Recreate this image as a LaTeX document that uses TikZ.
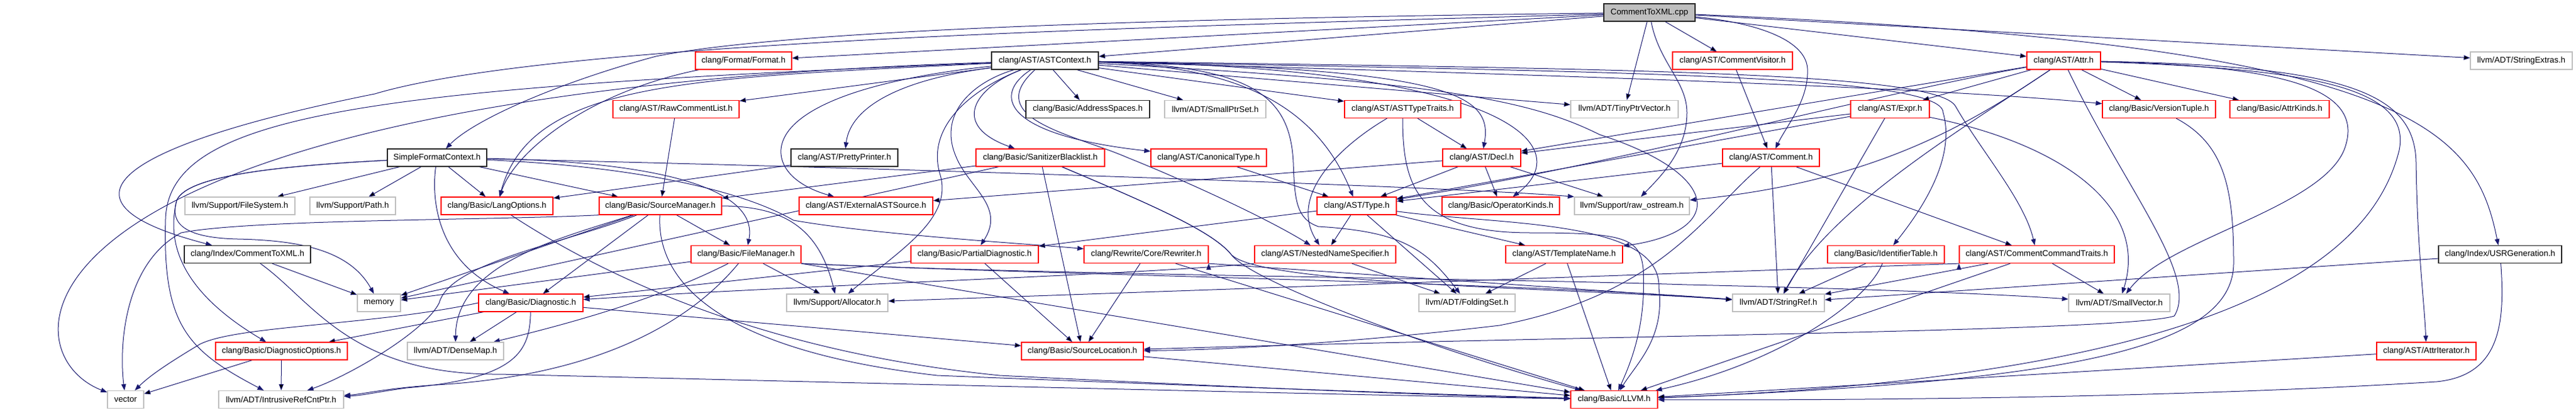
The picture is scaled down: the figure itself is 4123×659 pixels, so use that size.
\documentclass[tikz,border=0pt]{standalone}
\usepackage{fontspec}
\setmainfont{Liberation Sans}
\usetikzlibrary{arrows.meta}
\definecolor{depblue}{RGB}{25,25,112}
\definecolor{leafgray}{RGB}{191,191,191}
\pgfdeclarelayer{edges}
\pgfsetlayers{edges,main}
\tikzset{->, > = {Triangle[length=10pt, width=7.5pt]},
  file/.style = {rectangle, draw, fill=white, line width=1.2pt, minimum height=28pt,
    inner sep=0pt, font=\fontsize{13.3}{16}\selectfont},
  redfile/.style = {file, draw=red},
  leaffile/.style = {file, draw=leafgray},
  plainfile/.style = {file, draw=black!85},
  rootfile/.style = {file, draw=black!85, fill=leafgray},
  dep/.style = {draw=depblue, line width=1pt}}

\begin{document}
\begin{tikzpicture}[x=1pt, y=-1pt]
    \useasboundingbox (0,0) rectangle (4123,659);
    % row 0 and 1
    \node [rootfile, minimum width=146] (cpp) at (2640,20) {CommentToXML.cpp};
    \node [redfile, minimum width=154] (format) at (1190,97) {clang/Format/Format.h};
    \node [plainfile, minimum width=171] (astctx) at (1672.5,97) {clang/AST/ASTContext.h};
    \node [redfile, minimum width=192] (cvisitor) at (2773,97) {clang/AST/CommentVisitor.h};
    \node [redfile, minimum width=118] (attr) at (3303,97) {clang/AST/Attr.h};
    \node [leaffile, minimum width=163] (strextras) at (4035.5,97) {llvm/ADT/StringExtras.h};
    % row 2
    \node [redfile, minimum width=202] (rawcl) at (1082,174.5) {clang/AST/RawCommentList.h};
    \node [plainfile, minimum width=198] (addrsp) at (1741,174.5) {clang/Basic/AddressSpaces.h};
    \node [leaffile, minimum width=162] (smallptrset) at (1945,174.5) {llvm/ADT/SmallPtrSet.h};
    \node [redfile, minimum width=186] (asttt) at (2245,174.5) {clang/AST/ASTTypeTraits.h};
    \node [leaffile, minimum width=172] (tinyptr) at (2600,174.5) {llvm/ADT/TinyPtrVector.h};
    \node [redfile, minimum width=126] (expr) at (3025,174.5) {clang/AST/Expr.h};
    \node [redfile, minimum width=181] (vtuple) at (3455.5,174.5) {clang/Basic/VersionTuple.h};
    \node [redfile, minimum width=159] (attrkinds) at (3648.5,174.5) {clang/Basic/AttrKinds.h};
    % row 3
    \node [plainfile, minimum width=159] (sfc) at (699.5,252) {SimpleFormatContext.h};
    \node [plainfile, minimum width=171] (pretty) at (1351.5,252) {clang/AST/PrettyPrinter.h};
    \node [redfile, minimum width=206] (sanbl) at (1665,252) {clang/Basic/SanitizerBlacklist.h};
    \node [redfile, minimum width=185] (canon) at (1934.5,252) {clang/AST/CanonicalType.h};
    \node [redfile, minimum width=125] (decl) at (2371.5,252) {clang/AST/Decl.h};
    \node [redfile, minimum width=155] (comment) at (2834.5,252) {clang/AST/Comment.h};
    % row 4
    \node [leaffile, minimum width=176] (fsys) at (384,329) {llvm/Support/FileSystem.h};
    \node [leaffile, minimum width=137] (path) at (564.5,329) {llvm/Support/Path.h};
    \node [redfile, minimum width=179] (langopts) at (795.5,329) {clang/Basic/LangOptions.h};
    \node [redfile, minimum width=196] (srcmgr) at (1057,329) {clang/Basic/SourceManager.h};
    \node [redfile, minimum width=214] (extast) at (1386,329) {clang/AST/ExternalASTSource.h};
    \node [redfile, minimum width=127] (type) at (2171.5,329) {clang/AST/Type.h};
    \node [redfile, minimum width=188] (opkinds) at (2402,329) {clang/Basic/OperatorKinds.h};
    \node [leaffile, minimum width=184] (rawos) at (2612,329) {llvm/Support/raw\_ostream.h};
    % row 5
    \node [plainfile, minimum width=202] (idxctx) at (396,406.5) {clang/Index/CommentToXML.h};
    \node [redfile, minimum width=176] (filemgr) at (1194,406.5) {clang/Basic/FileManager.h};
    \node [redfile, minimum width=204] (partdiag) at (1560,406.5) {clang/Basic/PartialDiagnostic.h};
    \node [redfile, minimum width=199] (rewriter) at (1834.5,406.5) {clang/Rewrite/Core/Rewriter.h};
    \node [redfile, minimum width=226] (nns) at (2121,406.5) {clang/AST/NestedNameSpecifier.h};
    \node [redfile, minimum width=187] (tmplname) at (2503.5,406.5) {clang/AST/TemplateName.h};
    \node [redfile, minimum width=187] (identtab) at (3018.5,406.5) {clang/Basic/IdentifierTable.h};
    \node [redfile, minimum width=248] (cmdtraits) at (3260,406.5) {clang/AST/CommentCommandTraits.h};
    \node [plainfile, minimum width=197] (usrgen) at (4001.5,406.5) {clang/Index/USRGeneration.h};
    % row 6
    \node [leaffile, minimum width=69] (memory) at (606.5,484) {memory};
    \node [redfile, minimum width=167] (diag) at (849.5,484) {clang/Basic/Diagnostic.h};
    \node [leaffile, minimum width=162] (allocator) at (1340,484) {llvm/Support/Allocator.h};
    \node [leaffile, minimum width=154] (folding) at (2348,484) {llvm/ADT/FoldingSet.h};
    \node [leaffile, minimum width=147] (strref) at (2846.5,484) {llvm/ADT/StringRef.h};
    \node [leaffile, minimum width=162] (smallvec) at (3392,484) {llvm/ADT/SmallVector.h};
    % row 7 and 8
    \node [redfile, minimum width=211] (diagopts) at (450.5,561) {clang/Basic/DiagnosticOptions.h};
    \node [leaffile, minimum width=154] (densemap) at (729,561) {llvm/ADT/DenseMap.h};
    \node [redfile, minimum width=195] (srcloc) at (1732.5,561) {clang/Basic/SourceLocation.h};
    \node [redfile, minimum width=159] (attriter) at (3883.5,561) {clang/AST/AttrIterator.h};
    \node [leaffile, minimum width=58] (vector) at (201,638.5) {vector};
    \node [leaffile, minimum width=200] (intrusive) at (450,638.5) {llvm/ADT/IntrusiveRefCntPtr.h};
    \node [redfile, minimum width=139] (llvm) at (2583.5,638.5) {clang/Basic/LLVM.h};

    \begin{pgfonlayer}{edges}
    % includes of the source file
    \draw [dep] (cpp) edge (format) edge (astctx) edge (cvisitor) edge (attr)
        edge (strextras) edge (tinyptr);
    \draw [dep] (cpp) .. controls (1800,30) and (1250,50) .. (1050,90)
        .. controls (900,130) and (760,190) .. (sfc);
    \draw [dep] (cpp) .. controls (2000,40) and (900,60) .. (600,150)
        .. controls (200,230) and (60,320) .. (idxctx);
    \draw [dep] (cpp) .. controls (3850,70) and (3960,200) .. (usrgen);
    \draw [dep] (cpp) .. controls (2800,35) and (2890,60) .. (2893,110)
        .. controls (2895,160) and (2860,200) .. (comment);
    \draw [dep] (cpp) .. controls (2655,100) and (2700,130) .. (2700,180)
        .. controls (2700,240) and (2660,280) .. (rawos);
    \draw [dep] (format) .. controls (930,150) and (820,250) .. (langopts);
    % ASTContext.h
    \draw [dep] (astctx) edge (asttt) edge (rawcl) edge (addrsp) edge (smallptrset) edge (tinyptr);
    \draw [dep] (astctx) .. controls (2500,120) and (3100,140) .. (vtuple);
    \draw [dep] (astctx) .. controls (1560,140) and (1520,200) .. (sanbl);
    \draw [dep] (astctx) .. controls (1590,150) and (1600,215) .. (canon);
    \draw [dep] (astctx) .. controls (1950,105) and (2100,150) .. (type);
    \draw [dep] (astctx) .. controls (1570,190) and (1720,215) .. (1805,252)
        .. controls (1900,290) and (2030,350) .. (nns);
    \draw [dep] (astctx) .. controls (2320,110) and (2390,150) .. (decl);
    \draw [dep] (astctx) .. controls (2440,110) and (2520,240) .. (opkinds);
    \draw [dep] (astctx) .. controls (2600,115) and (3110,120) .. (3110,180)
        .. controls (3130,250) and (3080,330) .. (identtab);
    \draw [dep] (astctx) .. controls (2600,110) and (3100,115) .. (3130,170)
        .. controls (3170,240) and (3240,320) .. (cmdtraits);
    \draw [dep] (astctx) .. controls (2300,130) and (2450,160) .. (2560,215)
        .. controls (2760,280) and (2760,370) .. (tmplname);
    \draw [dep] (astctx) .. controls (2000,105) and (2065,150) .. (2070,260)
        .. controls (2072,320) and (2075,350) .. (2110,362)
        .. controls (2240,370) and (2280,395) .. (folding);
    \draw [dep] (astctx) .. controls (1100,125) and (850,130) .. (langopts);
    \draw [dep] (astctx) .. controls (1420,130) and (1360,180) .. (pretty);
    \draw [dep] (astctx) .. controls (1450,120) and (1320,150) .. (1270,200)
        .. controls (1230,240) and (1250,290) .. (extast);
    \draw [dep] (astctx) .. controls (1560,130) and (1500,180) .. (1530,250)
        .. controls (1550,300) and (1610,330) .. (partdiag);
    \draw [dep] (astctx) .. controls (1560,140) and (1480,200) .. (1505,280)
        .. controls (1525,350) and (1440,400) .. (allocator);
    \draw [dep] (astctx) .. controls (0,150) and (0,560) .. (vector);
    \draw [dep] (astctx) .. controls (600,140) and (270,180) .. (265,350)
        .. controls (260,520) and (300,560) .. (intrusive);
    % Attr.h and the AST headers
    \draw [dep] (cvisitor) edge (comment);
    \draw [dep] (attr) edge (decl) edge (expr) edge (attrkinds) edge (vtuple);
    \draw [dep] (attr) .. controls (3000,150) and (2600,260) .. (type);
    \draw [dep] (attr) .. controls (3150,200) and (2930,330) .. (strref);
    \draw [dep] (attr) .. controls (3150,200) and (3000,290) .. (rawos);
    \draw [dep] (attr) .. controls (3400,300) and (3520,440) .. (3480,505)
        .. controls (3400,530) and (2600,535) .. (srcloc);
    \draw [dep] (attr) .. controls (3760,105) and (3865,150) .. (3867,260)
        .. controls (3869,400) and (3880,480) .. (attriter);
    \draw [dep] (attr) .. controls (3700,110) and (3860,140) .. (3840,240)
        .. controls (3800,400) and (3600,600) .. (llvm);
    \draw [dep] (attr) .. controls (3650,105) and (3780,140) .. (3755,230)
        .. controls (3730,330) and (3470,380) .. (smallvec);
    \draw [dep] (expr) edge (decl) edge (type) edge (strref);
    \draw [dep] (expr) .. controls (3300,230) and (3440,330) .. (smallvec);
    \draw [dep] (asttt) edge (decl);
    \draw [dep] (asttt) .. controls (2150,230) and (2060,310) .. (nns);
    \draw [dep] (asttt) .. controls (2245,300) and (2270,372) .. (2450,372)
        .. controls (2600,372) and (2625,380) .. (2630,430)
        .. controls (2635,520) and (2610,580) .. (llvm);
    \draw [dep] (rawcl) edge (srcmgr);
    \draw [dep] (pretty) edge (langopts);
    \draw [dep] (sanbl) edge (srcloc) edge (srcmgr) edge (memory);
    \draw [dep] (sanbl) .. controls (1850,330) and (1940,370) .. (1970,406)
        .. controls (2000,450) and (2300,560) .. (llvm);
    \draw [dep] (sanbl) .. controls (1850,330) and (1940,370) .. (1970,406)
        .. controls (2010,455) and (2500,460) .. (strref);
    \draw [dep] (canon) edge (type);
    \draw [dep] (decl) edge (extast) edge (type) edge (opkinds) edge (rawos);
    \draw [dep] (comment) edge (cmdtraits) edge (type) edge (strref);
    \draw [dep] (comment) .. controls (2730,340) and (2660,470) .. (2400,520)
        .. controls (2100,555) and (1900,560) .. (srcloc);
    \draw [dep] (type) edge (nns) edge (tmplname) edge (folding) edge (partdiag);
    \draw [dep] (type) .. controls (2400,360) and (2660,350) .. (2655,460)
        .. controls (2665,540) and (2620,580) .. (llvm);
    \draw [dep] (nns) edge (folding);
    \draw [dep] (nns.south west) .. controls (1800,440) and (1300,455) .. (diag);
    \draw [dep] (tmplname) edge (folding) edge (llvm);
    % SimpleFormatContext.h and the Basic headers
    \draw [dep] (sfc) edge (fsys) edge (path) edge (langopts) edge (srcmgr);
    \draw [dep] (sfc) .. controls (1050,258) and (1215,300) .. (filemgr);
    \draw [dep] (sfc) .. controls (690,320) and (700,420) .. (diag);
    \draw [dep] (sfc) .. controls (1000,265) and (1180,300) .. (1270,352)
        .. controls (1400,375) and (1650,390) .. (rewriter);
    \draw [dep] (sfc) .. controls (1500,270) and (2350,300) .. (rawos.north west);
    \draw [dep] (sfc) .. controls (450,265) and (300,280) .. (283,320)
        .. controls (268,380) and (280,460) .. (diagopts);
    \draw [dep] (sfc) .. controls (450,265) and (300,280) .. (283,320)
        .. controls (270,360) and (300,380) .. (380,382)
        .. controls (480,384) and (560,400) .. (memory);
    \draw [dep] (idxctx) edge (memory);
    \draw [dep] (idxctx) .. controls (500,480) and (560,600) .. (800,598)
        .. controls (1500,615) and (2200,632) .. (llvm);
    \draw [dep] (langopts) .. controls (950,430) and (1200,560) .. (1600,600)
        .. controls (2000,620) and (2300,632) .. (llvm);
    \draw [dep] (srcmgr) edge (filemgr) edge (diag) edge (memory);
    \draw [dep] (srcmgr) .. controls (900,380) and (730,420) .. (densemap);
    \draw [dep] (srcmgr) .. controls (900,390) and (720,420) .. (703,484)
        .. controls (680,530) and (560,600) .. (intrusive);
    \draw [dep] (srcmgr.east) .. controls (1250,330) and (1310,360) .. (allocator);
    \draw [dep] (srcmgr) .. controls (1050,450) and (1150,560) .. (1500,600)
        .. controls (2000,620) and (2300,630) .. (llvm);
    \draw [dep] (srcmgr.south west) .. controls (800,352) and (400,350) .. (290,372)
        .. controls (200,420) and (190,550) .. (vector);
    \draw [dep] (filemgr) edge (memory) edge (allocator) edge (llvm);
    \draw [dep] (filemgr) .. controls (1050,480) and (900,520) .. (densemap);
    \draw [dep] (filemgr) .. controls (1100,520) and (950,600) .. (700,615)
        .. controls (620,620) and (580,630) .. (intrusive);
    \draw [dep] (filemgr.south east) .. controls (1700,440) and (2400,450) .. (strref);
    \draw [dep] (filemgr.south east) .. controls (1700,440) and (2400,445) .. (2700,455)
        .. controls (3000,462) and (3200,470) .. (smallvec);
    \draw [dep] (partdiag) edge (diag) edge (srcloc);
    \draw [dep] (rewriter) edge (srcloc) edge (llvm);
    \draw [dep] (rewriter.south east) edge (strref);
    \draw [dep] (identtab) edge (strref);
    \draw [dep] (identtab) .. controls (2990,480) and (2850,580) .. (llvm);
    \draw [dep] (cmdtraits) edge (smallvec) edge (strref) edge (llvm);
    \draw [dep] (cmdtraits.south west) edge (allocator);
    \draw [dep] (usrgen) edge (strref);
    \draw [dep] (usrgen) .. controls (4010,520) and (4000,600) .. (3900,610)
        .. controls (3500,635) and (3000,640) .. (llvm);
    \draw [dep] (vtuple) .. controls (3560,230) and (3575,300) .. (3575,420)
        .. controls (3575,560) and (3300,610) .. (llvm);
    \draw [dep] (diag) edge (diagopts) edge (densemap) edge (srcloc);
    \draw [dep] (diag) .. controls (848,560) and (830,605) .. (650,620)
        .. controls (600,627) and (580,632) .. (intrusive);
    \draw [dep] (diag.west) .. controls (600,520) and (380,520) .. (320,550)
        .. controls (270,580) and (240,600) .. (vector);
    \draw [dep] (diagopts) edge (vector) edge (intrusive);
    \draw [dep] (srcloc) edge (llvm);
    \draw [dep] (attriter) edge (llvm);
    \end{pgfonlayer}
\end{tikzpicture}
\end{document}
